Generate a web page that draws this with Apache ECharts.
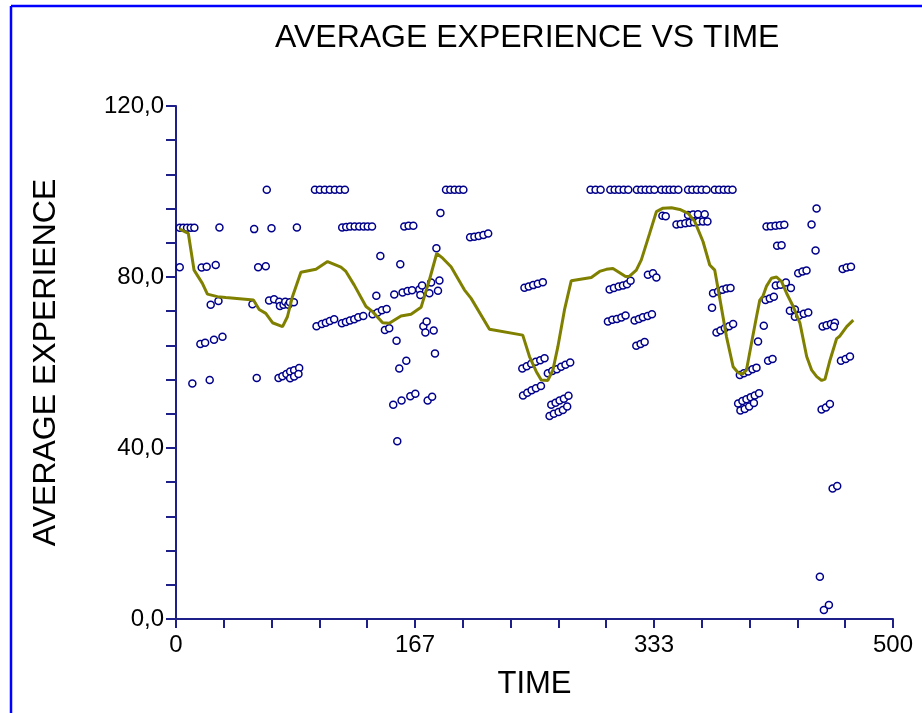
<!DOCTYPE html>
<html>
<head>
<meta charset="utf-8">
<script src="https://cdn.jsdelivr.net/npm/echarts@6/dist/echarts.min.js"></script>
<style>
html,body{margin:0;padding:0;background:#fff;}
#chart{width:922px;height:713px;}
</style>
</head>
<body>
<div id="chart"></div>
<script>
// ---- Data ----
const chartTitle = 'AVERAGE EXPERIENCE VS TIME';
const xAxisName = 'TIME';
const yAxisName = 'AVERAGE EXPERIENCE';
const xTickLabels = ['0', '167', '333', '500'];
const yTickLabels = ['0,0', '40,0', '80,0', '120,0'];

// Individual observations (scatter circles)
const pointTime = [
  2.6,5.1,7.7,10.3,12.8,
  2.6,11.4,17.9,21.4,27.7,24.2,29.6,17.0,20.3,26.5,32.4,23.5,30.3,
  63.3,54.5,66.6,84.3,57.3,62.6,53.3,64.9,68.4,
  72.0,72.5,75.0,76.2,78.4,79.4,82.2,
  56.3,71.5,74.2,77.0,79.6,82.4,85.9,79.6,82.4,85.4,
  96.9,100.3,103.8,107.3,110.8,114.3,117.8,
  115.9,118.7,121.5,124.6,127.8,130.9,133.7,136.7,
  98.0,101.7,104.5,107.3,110.3,115.7,118.5,121.3,124.3,127.1,130.6,137.1,140.6,143.6,146.9,
  145.7,148.7,
  159.2,162.2,165.5,
  188.3,191.3,194.3,197.4,200.4,
  184.4,
  205.1,208.1,211.1,214.4,217.7,
  142.5,156.4,181.6,139.7,
  152.2,158.0,161.5,164.6,169.7,171.6,177.9,183.7,
  170.4,176.7,182.7,
  172.5,174.8,173.9,179.7,
  153.8,180.6,160.6,155.7,
  151.5,157.3,163.4,166.9,175.5,178.6,
  154.3,
  243.0,246.0,249.1,252.3,255.8,
  241.5,244.6,247.7,250.9,254.0,257.0,
  242.0,245.0,248.0,251.0,254.5,
  289.1,292.6,296.1,302.9,305.9,308.9,312.2,315.4,321.4,324.5,327.5,330.5,333.6,338.5,341.5,344.3,347.1,350.3,357.1,360.1,363.3,366.6,369.9,375.7,378.7,382.0,385.0,388.1,
  339.2,341.5,
  349.0,352.0,355.2,358.2,361.2,364.5,367.5,370.6,
  357.1,360.6,364.0,368.7,
  302.4,305.4,308.7,311.7,314.5,317.0,
  329.1,332.6,335.0,
  301.2,304.3,307.5,310.6,313.5,
  319.8,322.8,325.6,328.9,331.9,
  321.0,324.0,326.8,
  259.3,262.4,265.6,268.6,271.6,274.9,
  261.7,264.7,267.5,270.5,273.7,
  260.5,263.5,266.8,269.8,272.8,
  374.5,378.0,381.1,383.9,386.7,
  373.8,
  376.9,379.7,382.7,385.7,388.5,
  446.7,443.2,446.0,
  411.8,414.8,418.1,421.1,424.2,
  419.2,422.3,
  433.9,436.9,439.7,
  464.9,467.7,470.7,
  418.3,421.6,425.3,428.8,
  411.1,414.1,416.9,
  428.1,431.6,431.6,434.6,437.8,440.9,
  409.9,405.9,412.9,416.0,
  450.9,453.7,456.7,459.5,458.8,
  463.7,467.0,470.0,
  450.2,453.2,456.0,
  393.2,396.0,399.0,402.0,404.8,
  392.0,395.0,397.8,400.8,403.6,406.6,
  393.6,396.6,399.7,403.0,
  457.9,461.1,449.0,451.8,455.3
];
const pointExperience = [
  91.5,91.5,91.5,91.5,91.5,
  82.3,55.1,82.2,82.4,82.8,73.5,74.4,64.3,64.6,65.3,66.0,55.9,91.6,
  100.4,91.2,91.4,91.6,82.3,82.5,73.6,74.5,74.8,
  74.2,73.2,73.5,74.2,73.5,74.1,74.1,
  56.4,56.4,56.8,57.3,57.9,58.2,58.7,56.3,56.7,57.3,
  100.4,100.4,100.4,100.4,100.4,100.4,100.4,
  91.6,91.7,91.8,91.8,91.8,91.8,91.8,91.8,
  68.5,69.0,69.3,69.7,70.1,69.2,69.5,69.8,70.1,70.6,70.9,71.3,71.7,72.2,72.5,
  67.6,68.0,
  91.8,92.0,92.0,
  100.4,100.4,100.4,100.4,100.4,
  95.0,
  89.3,89.4,89.6,89.8,90.2,
  84.9,83.0,86.7,75.6,
  75.9,76.4,76.7,76.9,77.1,78.0,78.7,79.2,
  75.8,76.2,76.8,
  68.5,69.6,67.0,67.5,
  65.1,62.1,60.4,58.6,
  50.1,51.1,52.1,52.7,51.1,52.0,
  41.6,
  77.5,77.8,78.1,78.4,78.8,
  58.6,59.1,59.7,60.2,60.5,61.0,
  52.3,52.9,53.5,54.0,54.5,
  100.4,100.4,100.4,100.4,100.4,100.4,100.4,100.4,100.4,100.4,100.4,100.4,100.4,100.4,100.4,100.4,100.4,100.4,100.4,100.4,100.4,100.4,100.4,100.4,100.4,100.4,100.4,100.4,
  94.3,94.2,
  92.3,92.4,92.6,92.7,92.8,93.0,93.0,93.0,
  94.5,94.6,94.7,94.7,
  77.1,77.4,77.8,78.0,78.3,79.1,
  80.5,80.9,79.9,
  69.6,70.0,70.2,70.5,71.0,
  69.8,70.2,70.6,70.9,71.3,
  63.9,64.3,64.8,
  57.5,58.0,58.4,59.0,59.5,60.0,
  50.1,50.6,51.1,51.5,52.2,
  47.5,48.0,48.4,48.9,49.7,
  76.2,76.6,77.0,77.3,77.4,
  72.8,
  67.0,67.5,68.0,68.5,69.0,
  96.0,92.3,86.2,
  91.8,91.9,92.0,92.1,92.2,
  87.3,87.4,
  80.9,81.3,81.5,
  81.9,82.2,82.4,
  78.0,78.2,78.7,77.4,
  74.6,75.0,75.4,
  72.1,72.4,70.7,71.0,71.4,71.7,
  68.6,64.9,60.4,60.8,
  68.4,68.7,69.0,69.3,68.4,
  60.4,60.8,61.4,
  49.0,49.5,50.3,
  57.1,57.5,57.9,58.4,58.8,
  50.4,51.0,51.4,51.9,52.3,52.8,
  48.8,49.1,49.7,50.5,
  30.5,31.1,9.9,2.1,3.3
];

// Average experience curve
const avgTime = [
  2.6,8.6,12.6,18.4,21.9,28.9,34.7,54.0,58.0,62.6,67.3,74.3,77.7,81.2,87.1,97.6,105.7,115.0,118.5,124.3,
  132.5,137.1,144.1,148.7,156.9,163.9,170.9,176.7,181.8,186.0,191.8,201.1,205.8,218.6,241.8,246.5,251.2,254.7,
  259.3,262.8,266.3,270.9,275.6,289.6,295.4,300.1,304.7,309.4,313.5,316.3,321.0,324.5,330.3,335.0,339.6,345.5,
  351.3,357.1,361.7,367.5,372.2,375.7,379.2,383.9,388.5,392.0,395.0,397.8,401.3,404.8,407.1,409.4,411.7,415.2,
  418.8,422.3,425.8,430.4,435.1,439.8,443.3,446.8,450.3,452.6,456.1,460.7,463.0,467.7,472.3
];
const avgExperience = [
  91.2,90.2,81.6,78.5,76.0,75.4,75.2,74.6,72.4,71.5,69.3,68.4,70.7,75.4,81.1,81.8,83.6,82.3,81.3,78.1,
  73.1,71.9,69.3,69.2,70.9,71.3,72.9,79.3,85.5,84.4,82.4,77.0,75.0,67.8,66.4,61.4,57.9,55.9,
  55.8,58.2,63.7,72.3,79.1,79.9,81.3,81.8,82.0,81.0,80.1,80.2,81.6,84.0,90.2,95.3,96.1,96.2,
  95.8,94.9,93.0,88.3,82.8,81.6,75.0,66.0,59.0,57.6,57.3,58.2,64.5,70.7,74.6,75.6,77.8,79.7,
  80.0,78.9,76.2,73.1,69.2,61.4,58.2,56.7,55.8,56.1,60.6,65.6,66.2,68.4,69.9
];

// ---- Chart ----
const FONT = '"Liberation Sans", Arial, Helvetica, sans-serif';
const AXIS_COLOR = '#1f1f8a';
const chart = echarts.init(document.getElementById('chart'), null, {renderer: 'canvas'});

const scatterData = pointTime.map((t, i) => [t, pointExperience[i]]);
const lineData = avgTime.map((t, i) => [t, avgExperience[i]]);

chart.setOption({
  animation: false,
  backgroundColor: '#ffffff',
  title: {
    text: chartTitle,
    left: 275,
    top: 22,
    padding: 0,
    textStyle: {fontFamily: FONT, fontSize: 32, fontWeight: 'normal', color: '#000'}
  },
  grid: {left: 176, right: 29, top: 106, bottom: 94, containLabel: false},
  xAxis: {
    type: 'value',
    min: 0,
    max: 500,
    interval: 100 / 3,
    name: xAxisName,
    nameLocation: 'middle',
    nameGap: 50,
    nameTextStyle: {fontFamily: FONT, fontSize: 31, color: '#000'},
    axisLine: {show: true, onZero: false, lineStyle: {color: AXIS_COLOR, width: 2}},
    axisTick: {show: true, inside: false, length: 9, lineStyle: {color: AXIS_COLOR, width: 2}},
    axisLabel: {
      margin: 14,
      fontFamily: FONT, fontSize: 24, color: '#000',
      showMinLabel: true, showMaxLabel: true,
      formatter: (v, i) => (i % 5 === 0 ? (xTickLabels[i / 5] || '') : '')
    },
    splitLine: {show: false}
  },
  yAxis: {
    type: 'value',
    min: 0,
    max: 120,
    interval: 8,
    name: yAxisName,
    nameLocation: 'middle',
    nameRotate: 90,
    nameGap: 114,
    nameTextStyle: {fontFamily: FONT, fontSize: 32, color: '#000'},
    axisLine: {show: true, onZero: false, lineStyle: {color: AXIS_COLOR, width: 2}},
    axisTick: {show: true, inside: false, length: 10, lineStyle: {color: AXIS_COLOR, width: 2}},
    axisLabel: {
      margin: 12,
      fontFamily: FONT, fontSize: 24, color: '#000',
      showMinLabel: true, showMaxLabel: true,
      formatter: (v, i) => (i % 5 === 0 ? (yTickLabels[i / 5] || '') : '')
    },
    splitLine: {show: false}
  },
  graphic: [
    {type: 'line', shape: {x1: 11, y1: 6, x2: 11, y2: 713}, style: {stroke: '#0000ff', lineWidth: 2.5}, silent: true},
    {type: 'line', shape: {x1: 11, y1: 6, x2: 922, y2: 6}, style: {stroke: '#0000ff', lineWidth: 2.5}, silent: true}
  ],
  series: [
    {
      type: 'scatter',
      name: 'Experience',
      data: scatterData,
      symbol: 'circle',
      symbolSize: 7,
      itemStyle: {color: '#ffffff', borderColor: '#00008b', borderWidth: 1.5, opacity: 1},
      z: 2
    },
    {
      type: 'line',
      name: 'Average',
      data: lineData,
      showSymbol: false,
      symbol: 'none',
      smooth: false,
      lineStyle: {color: '#808000', width: 3},
      z: 3
    }
  ]
});
</script>
</body>
</html>
